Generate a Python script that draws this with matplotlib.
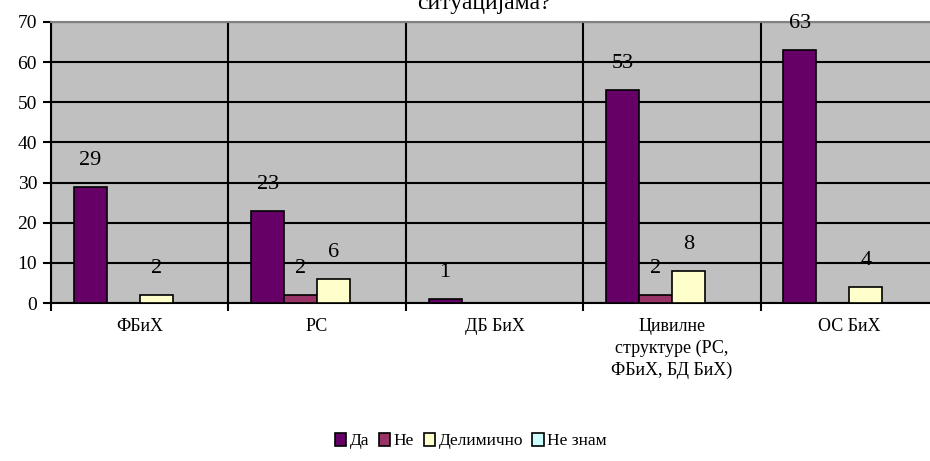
import matplotlib
matplotlib.use("Agg")
import matplotlib.pyplot as plt
import numpy as np

categories = ["ФБиХ", "РС", "ДБ БиХ", "Цивилне\nструктуре (РС,\nФБиХ, БД БиХ)", "ОС БиХ"]
series_names = ["Да", "Не", "Делимично", "Не знам"]
da = [29, 23, 1, 53, 63]
ne = [0, 2, 0, 2, 0]
delimicno = [2, 6, 0, 8, 4]
ne_znam = [0, 0, 0, 0, 0]
colors = ["#660066", "#993366", "#FFFFCC", "#CCFFFF"]
title_text = "ситуацијама?"

plt.rcParams['font.family'] = ['Liberation Serif', 'DejaVu Serif']

fig = plt.figure(figsize=(9.30, 4.61), dpi=100)
W, H = 930, 461
left, right, top, bottom = 51, 938, 22, 303
ax = fig.add_axes([left / W, 1 - bottom / H, (right - left) / W, (bottom - top) / H])
ax.set_facecolor("#C0C0C0")

x = np.arange(len(categories))
bw = 0.186
series = [da, ne, delimicno, ne_znam]
offsets = (np.arange(4) - 1.5) * bw
for vals, off, col, name in zip(series, offsets, colors, series_names):
    ax.bar(x + off, vals, bw, color=col, edgecolor="black", linewidth=1.2,
           label=name, zorder=3)
    for xi, v in zip(x + off, vals):
        if v:
            ax.annotate(str(v), (xi, v), xytext=(0, 19), textcoords="offset points",
                        ha="center", va="center", fontsize=16, zorder=4)

ax.set_xlim(-0.5, len(categories) - 0.5)
ax.set_ylim(0, 70)
ax.set_yticks(np.arange(0, 71, 10))
ax.set_xticks(x)
ax.set_xticklabels(categories, fontsize=13, linespacing=1.35)
ax.set_xticks(np.arange(-0.5, len(categories), 1), minor=True)
ax.tick_params(axis="x", which="major", length=0, pad=11)
ax.tick_params(axis="x", which="minor", length=6, width=1.5, direction="out")
ax.tick_params(axis="y", length=6, width=1.5, direction="out", labelsize=14, pad=4)
ax.grid(axis="y", which="major", color="black", linewidth=1.5, zorder=1)
ax.grid(axis="x", which="minor", color="black", linewidth=1.5, zorder=1)
ax.set_axisbelow(True)

for s in ["left", "bottom"]:
    ax.spines[s].set_linewidth(1.5)
    ax.spines[s].set_color("black")
ax.spines["top"].set_color("#808080")
ax.spines["top"].set_linewidth(1.5)
ax.spines["right"].set_visible(False)

fig.text(484 / W, 1 - 4 / H, title_text, ha="center", va="center", fontsize=17)

handles, labels = ax.get_legend_handles_labels()
fig.legend(handles, labels, loc="center", bbox_to_anchor=(471 / W, 1 - 441 / H),
           ncol=4, frameon=False, fontsize=12.5, handlelength=0.65, handleheight=0.75,
           handletextpad=0.2, columnspacing=0.55)

fig.savefig("out.png", dpi=100)
